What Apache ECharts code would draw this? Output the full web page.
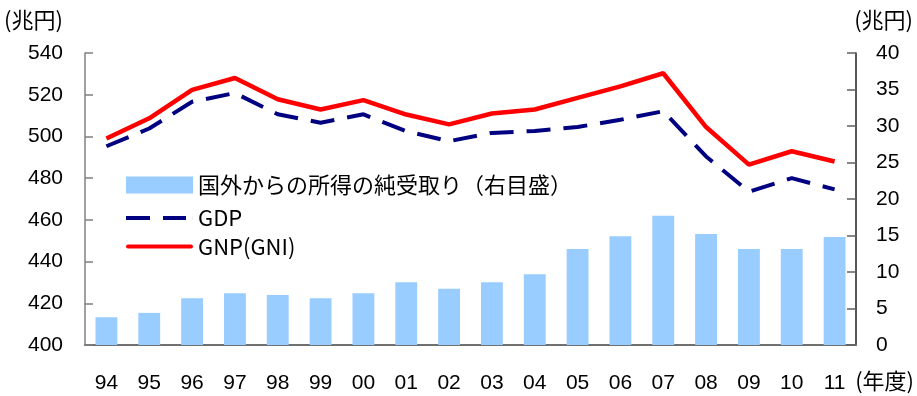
<!DOCTYPE html>
<html>
<head>
<meta charset="utf-8">
<script src="https://cdn.jsdelivr.net/npm/echarts@6/dist/echarts.min.js"></script>
<style>
  html, body { margin: 0; padding: 0; background: #fff; }
  #chart { width: 917px; height: 396px; }
</style>
</head>
<body>
<div id="chart"></div>
<script>
// 年度ラベル
const years = ['94','95','96','97','98','99','00','01','02','03','04','05','06','07','08','09','10','11'];

// 国外からの所得の純受取り（兆円、右目盛）
const netIncome = [3.8, 4.4, 6.4, 7.1, 6.85, 6.4, 7.1, 8.6, 7.7, 8.6, 9.7, 13.15, 14.9, 17.7, 15.2, 13.15, 13.15, 14.8];

// GDP（兆円、左目盛）
const gdp = [495.3, 503.8, 516.6, 520.8, 510.6, 506.6, 510.6, 502.5, 497.7, 501.7, 502.6, 504.5, 508.0, 512.1, 490.4, 473.5, 480.0, 474.6];

// GNP（GNI）（兆円、左目盛）
const gnp = [499.0, 508.7, 522.3, 528.0, 517.8, 512.9, 517.4, 510.5, 505.8, 511.0, 512.9, 518.5, 524.0, 530.3, 504.5, 486.5, 492.9, 488.0];

// 目盛り
const leftAxis = { min: 400, max: 540, interval: 20 };
const rightAxis = { min: 0, max: 40, interval: 5 };

const seriesNames = ['国外からの所得の純受取り（右目盛）', 'GDP', 'GNP(GNI)'];

const numFont = '"Liberation Sans", Arial, sans-serif';
const jpFont = '"Noto Sans CJK JP", "Liberation Sans", sans-serif';

// 凡例用アイコン（幅67×高さ4の枠に合わせて伸縮）
const dashIcon = 'path://M0,0H24V4H0Z M37,0H60V4H37Z M66.95,0H67V4H66.95Z';
const solidIcon = 'path://M2,0H65A2,2 0 0 1 65,4H2A2,2 0 0 1 2,0Z';

const legendText = { fontFamily: jpFont, fontSize: 22, color: '#000', lineHeight: 22 };

const chart = echarts.init(document.getElementById('chart'), null, { renderer: 'canvas' });

chart.setOption({
  animation: false,
  backgroundColor: '#ffffff',
  grid: { left: 85, right: 61, top: 53, bottom: 51, containLabel: false },
  legend: [
    {
      orient: 'vertical',
      left: 126,
      top: 174,
      padding: 0,
      itemWidth: 67,
      itemHeight: 17,
      textStyle: legendText,
      data: [{ name: seriesNames[0], icon: 'rect' }]
    },
    {
      orient: 'vertical',
      left: 126,
      top: 207,
      padding: 0,
      itemWidth: 67,
      itemHeight: 4.5,
      itemGap: 6.5,
      textStyle: legendText,
      data: [
        { name: seriesNames[1], icon: dashIcon, itemStyle: { color: '#000080', borderWidth: 0 } },
        { name: seriesNames[2], icon: solidIcon, itemStyle: { color: '#FF0000', borderWidth: 0 } }
      ]
    }
  ],
  xAxis: {
    type: 'category',
    data: years,
    boundaryGap: true,
    axisTick: { show: false },
    axisLine: { lineStyle: { color: '#707070', width: 2 } },
    axisLabel: { fontFamily: numFont, fontSize: 21, color: '#000', margin: 28 }
  },
  yAxis: [
    {
      type: 'value',
      position: 'left',
      min: leftAxis.min, max: leftAxis.max, interval: leftAxis.interval,
      splitLine: { show: false },
      axisLine: { show: true, lineStyle: { color: '#808080', width: 1.5 } },
      axisTick: { show: true, inside: true, length: 8, lineStyle: { color: '#808080', width: 1.5 } },
      axisLabel: { fontFamily: numFont, fontSize: 21, color: '#000', margin: 22 }
    },
    {
      type: 'value',
      position: 'right',
      min: rightAxis.min, max: rightAxis.max, interval: rightAxis.interval,
      splitLine: { show: false },
      axisLine: { show: true, lineStyle: { color: '#202020', width: 1.5 } },
      axisTick: { show: true, inside: true, length: 9, lineStyle: { color: '#606060', width: 1.5 } },
      axisLabel: { fontFamily: numFont, fontSize: 21, color: '#000', margin: 20 }
    }
  ],
  series: [
    {
      name: seriesNames[0],
      type: 'bar',
      yAxisIndex: 1,
      data: netIncome,
      barWidth: '51%',
      itemStyle: { color: '#99CCFF' },
      z: 1
    },
    {
      name: seriesNames[1],
      type: 'line',
      yAxisIndex: 0,
      data: gdp,
      symbol: 'none',
      lineStyle: { color: '#000080', width: 4, type: [24, 13] },
      itemStyle: { color: '#000080' },
      z: 3
    },
    {
      name: seriesNames[2],
      type: 'line',
      yAxisIndex: 0,
      data: gnp,
      symbol: 'none',
      lineStyle: { color: '#FF0000', width: 4.5 },
      itemStyle: { color: '#FF0000' },
      z: 4
    }
  ],
  graphic: [
    { type: 'text', left: 4, top: 9, style: { text: '(兆円)', fontFamily: jpFont, fontSize: 22, fill: '#000' } },
    { type: 'text', right: 4, top: 9, style: { text: '(兆円)', fontFamily: jpFont, fontSize: 22, fill: '#000' } },
    { type: 'text', right: 3, top: 370, style: { text: '(年度)', fontFamily: jpFont, fontSize: 22, fill: '#000' } }
  ]
});
</script>
</body>
</html>
